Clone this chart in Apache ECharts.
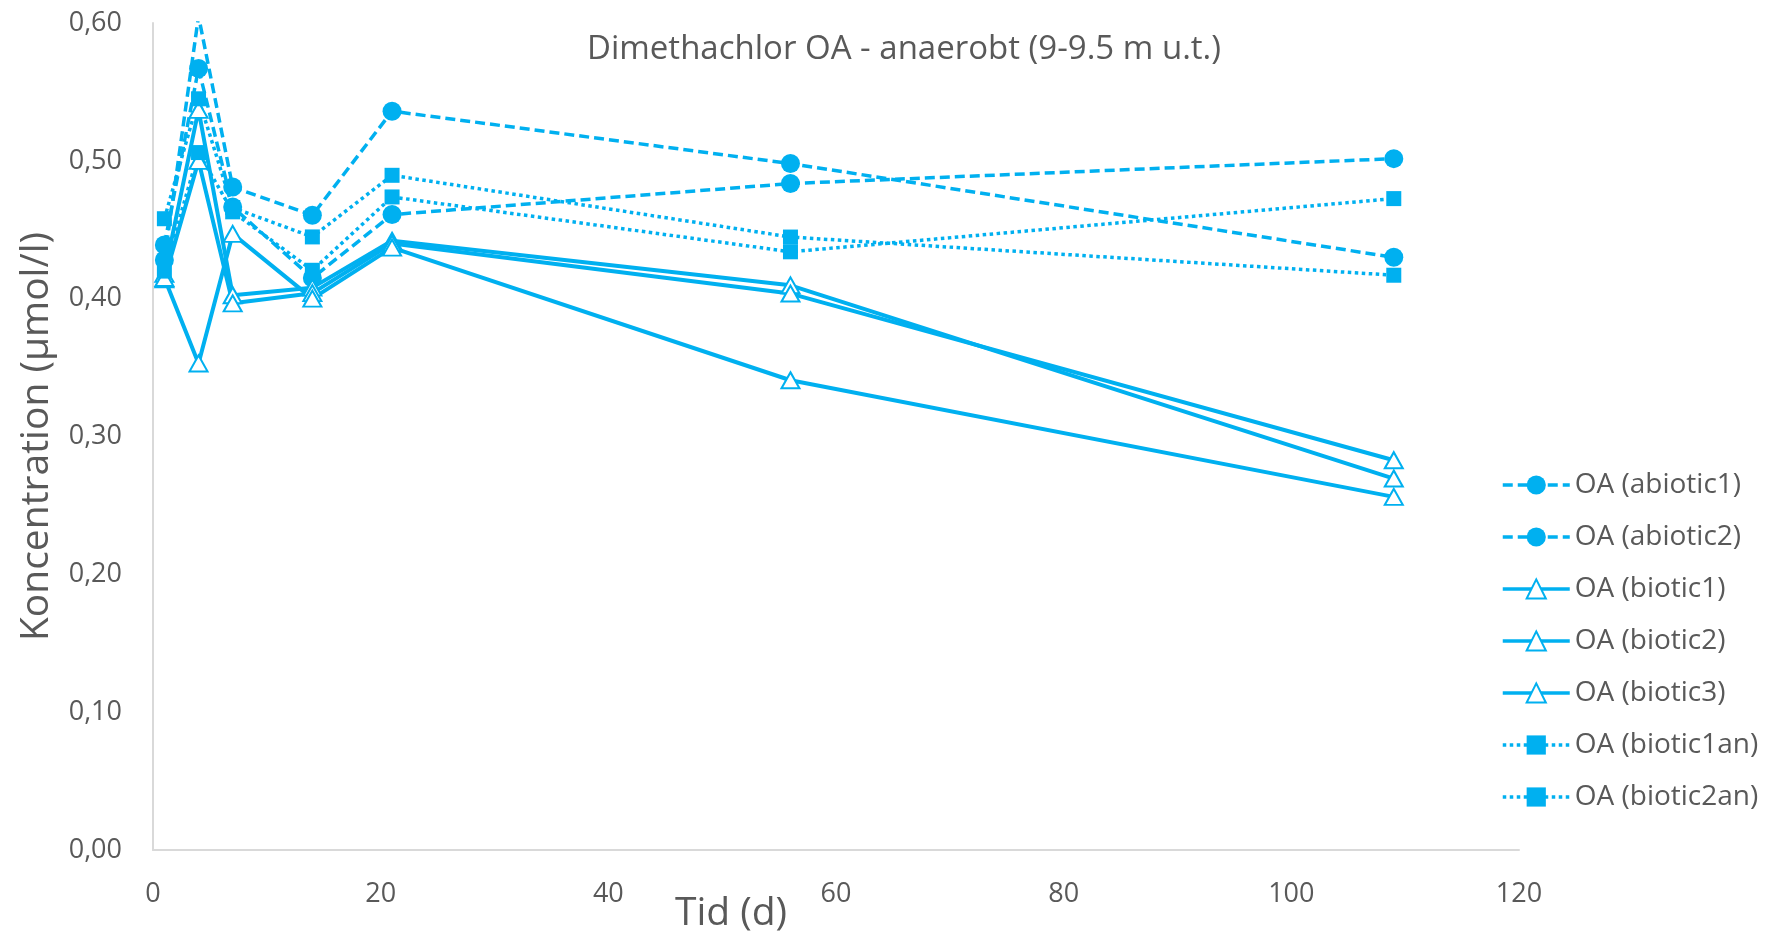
<!DOCTYPE html>
<html>
<head>
<meta charset="utf-8">
<script src="https://cdn.jsdelivr.net/npm/echarts@6/dist/echarts.min.js"></script>
<style>html,body{margin:0;padding:0;background:#fff;}#c{width:1773px;height:935px;}</style>
</head>
<body>
<div id="c"></div>
<script>
// Data
var days = [1, 4, 7, 14, 21, 56, 109];
var abiotic1 = [0.428, 0.605, 0.481, 0.4605, 0.536, 0.498, 0.430];
var abiotic2 = [0.439, 0.567, 0.4665, 0.415, 0.461, 0.4835, 0.5016];
var biotic1 = [0.418, 0.537, 0.4025, 0.408, 0.442, 0.4097, 0.2695];
var biotic2 = [0.414, 0.500, 0.3966, 0.404, 0.440, 0.4037, 0.2828];
var biotic3 = [0.415, 0.353, 0.447, 0.400, 0.437, 0.3408, 0.2562];
var biotic1an = [0.458, 0.545, 0.466, 0.4448, 0.4895, 0.4447, 0.417];
var biotic2an = [0.420, 0.506, 0.463, 0.4206, 0.4738, 0.434, 0.4726];
var seriesNames = ['OA (abiotic1)', 'OA (abiotic2)', 'OA (biotic1)', 'OA (biotic2)', 'OA (biotic3)', 'OA (biotic1an)', 'OA (biotic2an)'];
var titleText = 'Dimethachlor OA - anaerobt (9-9.5 m u.t.)';
var xName = 'Tid (d)';
var yName = 'Koncentration (µmol/l)';

var BLUE = '#00B0F0';
var TXT = '#595959';
var FONT = '"Open Sans", "Noto Sans", sans-serif';

function pairs(vals) { return days.map(function (d, i) { return [d, vals[i]]; }); }

function abioticSeries(name, vals) {
  return {
    name: name, type: 'line', data: pairs(vals),
    symbol: 'circle', symbolSize: 19,
    lineStyle: { color: BLUE, width: 3.5, type: [10, 5] },
    itemStyle: { color: BLUE, borderColor: BLUE, borderWidth: 0 },
    clip: true, z: 2
  };
}
function bioticSeries(name, vals) {
  return {
    name: name, type: 'line', data: pairs(vals),
    symbol: 'triangle', symbolSize: [18, 16],
    lineStyle: { color: BLUE, width: 4, type: 'solid' },
    itemStyle: { color: '#ffffff', borderColor: BLUE, borderWidth: 2 },
    clip: true, z: 2
  };
}
function anSeries(name, vals) {
  return {
    name: name, type: 'line', data: pairs(vals),
    symbol: 'rect', symbolSize: 15,
    lineStyle: { color: BLUE, width: 3.5, type: [3.5, 3.5] },
    itemStyle: { color: BLUE, borderColor: BLUE, borderWidth: 0 },
    clip: true, z: 2
  };
}

var chart = echarts.init(document.getElementById('c'), null, { renderer: 'canvas' });
chart.setOption({
  animation: false,
  backgroundColor: '#ffffff',
  textStyle: { fontFamily: FONT },
  title: {
    text: titleText, left: 899, top: 28, textAlign: 'center',
    textStyle: { color: TXT, fontSize: 33, fontWeight: 'normal', fontFamily: FONT }
  },
  grid: { left: 153, right: 254, top: 23, bottom: 85, containLabel: false, outerBoundsMode: 'none' },
  legend: {
    orient: 'vertical', left: 1496, top: 465,
    itemWidth: 67, itemHeight: 24, itemGap: 22,
    lineStyle: { width: 3.5 },
    textStyle: { color: TXT, fontSize: 28, lineHeight: 30, fontFamily: FONT, padding: [0, 0, 0, 0] },
    data: seriesNames
  },
  xAxis: {
    type: 'value', min: 0, max: 120, interval: 20,
    name: xName, nameLocation: 'middle', nameGap: 44, nameMoveOverlap: false,
    nameTextStyle: { color: TXT, fontSize: 39, fontFamily: FONT, padding: [0, 210, 0, 0] },
    axisLine: { show: true, lineStyle: { color: '#D9D9D9', width: 2 } },
    axisTick: { show: false },
    splitLine: { show: false },
    axisLabel: { color: TXT, fontSize: 27, margin: 31, fontFamily: FONT }
  },
  yAxis: {
    type: 'value', min: 0, max: 0.6, interval: 0.1,
    name: yName, nameLocation: 'middle', nameGap: 97, nameRotate: 90, nameMoveOverlap: false,
    nameTextStyle: { color: TXT, fontSize: 39, fontFamily: FONT },
    axisLine: { show: true, lineStyle: { color: '#D9D9D9', width: 2 } },
    axisTick: { show: false },
    splitLine: { show: false },
    axisLabel: {
      color: TXT, fontSize: 27, margin: 31, fontFamily: FONT,
      formatter: function (v) { return v.toFixed(2).replace('.', ','); }
    }
  },
  series: [
    abioticSeries(seriesNames[0], abiotic1),
    abioticSeries(seriesNames[1], abiotic2),
    bioticSeries(seriesNames[2], biotic1),
    bioticSeries(seriesNames[3], biotic2),
    bioticSeries(seriesNames[4], biotic3),
    anSeries(seriesNames[5], biotic1an),
    anSeries(seriesNames[6], biotic2an)
  ]
});
</script>
</body>
</html>
